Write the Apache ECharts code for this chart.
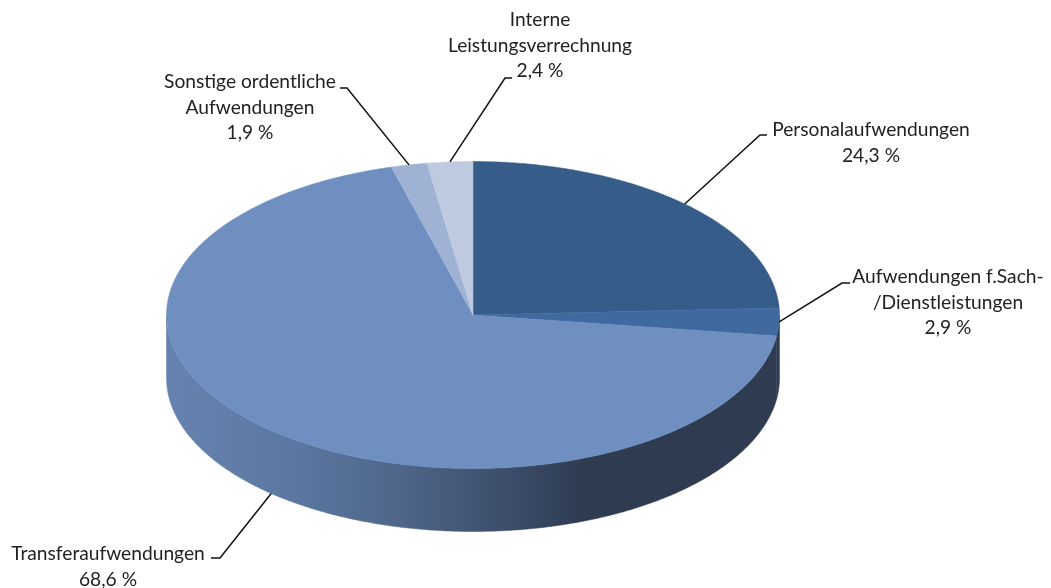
<!DOCTYPE html>
<html><head><meta charset="utf-8">
<style>html,body{margin:0;padding:0;background:#fff}#c{width:1051px;height:588px}</style>
<script src="https://cdn.jsdelivr.net/npm/echarts@6/dist/echarts.min.js"></script>
</head><body><div id="c"></div>
<script>
const categories = ['Personalaufwendungen','Aufwendungen f.Sach-\n/Dienstleistungen','Transferaufwendungen','Sonstige ordentliche\nAufwendungen','Interne\nLeistungsverrechnung'];
const values = [24.3, 2.9, 68.6, 1.9, 2.4];
const valueLabels = ['24,3 %','2,9 %','68,6 %','1,9 %','2,4 %'];
const colors = ['#365C8A','#3E6A9F','#6F8FC0','#9FB2D3','#BECADF'];

// layout (pixels), kept apart from data
const CX=473, CY=315, RX=306.5, RY=153.5, DEPTH=63;
const labelCenter = [[871,130],[948,277],[108,554],[250,82],[540,20]];
const leaderBend = [[[760,135],[767,135]],[[842,283],[850,283]],[[220,558],[211,558]],[[347,88],[340,88]],[[505,78],[512,78]]];
const LINE=25.6;

const total = values.reduce((a,b)=>a+b,0);
const starts=[]; let acc=0;
values.forEach(v=>{starts.push(acc/total*360); acc+=v;});
const pt=(deg,dy)=>{const r=deg*Math.PI/180;return [CX+RX*Math.sin(r),CY-RY*Math.cos(r)+(dy||0)];};
const arc=(a,b,dy)=>{const n=Math.max(2,Math.ceil(Math.abs(b-a)*2)),o=[];for(let i=0;i<=n;i++)o.push(pt(a+(b-a)*i/n,dy));return o;};

const wallFill=new echarts.graphic.LinearGradient(167,0,780,0,[
 {offset:0,color:'#6682AF'},{offset:0.2,color:'#5C78A2'},{offset:0.38,color:'#4F6689'},
 {offset:0.55,color:'#3C4E6C'},{offset:0.68,color:'#2E3C52'},{offset:1,color:'#2E3B50'}],true);

function renderSlice(params,api){
  const i=params.dataIndex, v=api.value(0), a=starts[i], b=a+v/total*360;
  const children=[];
  const wa=Math.max(a,90), wb=Math.min(b,270);
  if(wb>wa){
    children.push({type:'polygon',shape:{points:arc(wa,wb,0).concat(arc(wb,wa,DEPTH))},
      style:{fill:wallFill,stroke:wallFill,lineWidth:0.5}});
  }
  children.push({type:'polygon',shape:{points:[[CX,CY]].concat(arc(a,b,0))},
    style:{fill:colors[i],stroke:colors[i],lineWidth:0.5}});
  return {type:'group',children};
}
function renderLabel(params,api){
  const i=params.dataIndex, v=api.value(0), mid=starts[i]+v/total*180;
  const front=(i===2);
  const p=pt(mid,front?DEPTH:0);
  const lines=categories[i].split('\n').concat(valueLabels[i]);
  const children=[{type:'polyline',shape:{points:[p].concat(leaderBend[i])},style:{fill:null,stroke:'#111',lineWidth:1.5}}];
  const [x,y]=labelCenter[i];
  lines.forEach((t,k)=>children.push({type:'text',x:x,y:y+k*LINE,
    style:{text:t,fill:'#222',font:'19.2px Lato',textAlign:'center',textVerticalAlign:'middle'}}));
  return {type:'group',children};
}
const data=values.map((v,i)=>({value:[v],name:categories[i]}));
const chart=echarts.init(document.getElementById('c'));
chart.setOption({animation:false,backgroundColor:'#fff',
 series:[
  {type:'custom',coordinateSystem:'none',renderItem:renderSlice,data:data,z:2,silent:true},
  {type:'custom',coordinateSystem:'none',renderItem:renderLabel,data:data,z:3,silent:true}
 ]});
</script></body></html>
